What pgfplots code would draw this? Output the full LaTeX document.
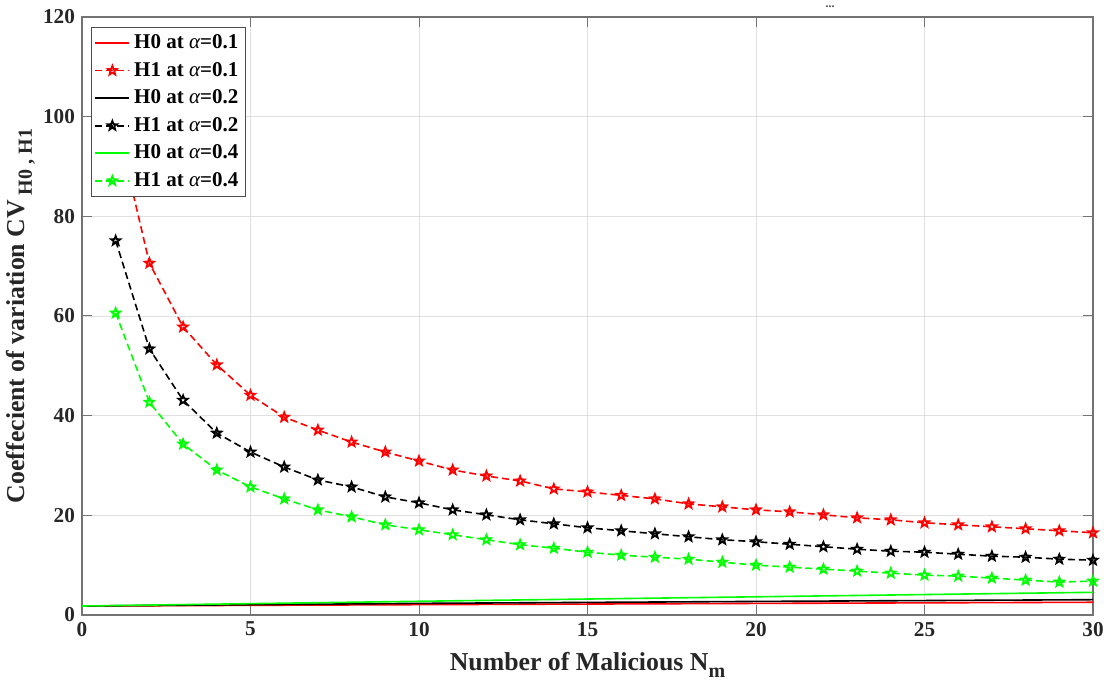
\documentclass[border=0pt]{standalone}
\usepackage{fontspec}
\setmainfont{Liberation Serif}
\usepackage{pgfplots}
\pgfplotsset{compat=1.18}
\pgfdeclareplotmark{pentagram}{%
  \pgfpathmoveto{\pgfpointpolar{90}{\pgfplotmarksize}}%
  \pgfpathlineto{\pgfpointpolar{126}{0.42\pgfplotmarksize}}%
  \pgfpathlineto{\pgfpointpolar{162}{\pgfplotmarksize}}%
  \pgfpathlineto{\pgfpointpolar{198}{0.42\pgfplotmarksize}}%
  \pgfpathlineto{\pgfpointpolar{234}{\pgfplotmarksize}}%
  \pgfpathlineto{\pgfpointpolar{270}{0.42\pgfplotmarksize}}%
  \pgfpathlineto{\pgfpointpolar{306}{\pgfplotmarksize}}%
  \pgfpathlineto{\pgfpointpolar{342}{0.42\pgfplotmarksize}}%
  \pgfpathlineto{\pgfpointpolar{18}{\pgfplotmarksize}}%
  \pgfpathlineto{\pgfpointpolar{54}{0.42\pgfplotmarksize}}%
  \pgfpathclose
  \pgfusepathqstroke
}
\newcommand{\al}{{\mdseries\itshape α}}
\begin{document}
\begin{tikzpicture}
\begin{axis}[
  scale only axis,
  width=505.5pt, height=299pt,
  xmin=0, xmax=30, ymin=0, ymax=120,
  xtick={0,5,...,30}, ytick={0,20,...,120},
  tick align=inside, tickpos=both,
  major tick length=5pt,
  axis line style={black!55, line width=0.6pt},
  tick style={black!55, line width=0.5pt},
  grid=major,
  major grid style={black!12, line width=0.4pt},
  /pgf/number format/assume math mode=true,
  tick label style={font=\fontsize{10.6}{12}\selectfont\bfseries, text=black!85},
  xlabel={Number of Malicious N\raisebox{-0.6ex}{\fontsize{10}{10}\selectfont m}},
  ylabel={Coeffecient of variation CV\raisebox{-0.6ex}{\fontsize{10}{10}\selectfont ~H0 , H1}},
  label style={font=\fontsize{12.9}{14}\selectfont\bfseries, text=black!85},
  xlabel style={at={(axis description cs:0.5,0)}, anchor=north, yshift=-15pt},
  ylabel style={at={(axis description cs:0,0.5)}, anchor=south, yshift=20pt},
  clip=false,
  legend style={at={(0.009,0.983)}, anchor=north west, draw=black!70, fill=white,
    font=\fontsize{10.5}{13.5}\selectfont\bfseries, inner sep=1.5pt, row sep=1.3pt},
  legend cell align=left,
  every axis plot/.append style={line width=0.8pt},
  mark size=2.4pt,
]
\addplot[red, no marks] coordinates {(0,1.8) (10,2.07) (20,2.32) (30,2.55)};
\addlegendentry{H0 at \al=0.1}
\addplot[red, dash pattern=on 3.5pt off 2pt, mark=pentagram, mark options={solid, line width=0.9pt}] coordinates {
(1,99.5) (2,70.6) (3,57.8) (4,50.2) (5,44.1) (6,39.7) (7,37.1) (8,34.7) (9,32.7) (10,30.9)
(11,29.1) (12,27.9) (13,26.9) (14,25.3) (15,24.7) (16,24.0) (17,23.3) (18,22.3) (19,21.7) (20,21.1)
(21,20.7) (22,20.1) (23,19.5) (24,19.1) (25,18.5) (26,18.1) (27,17.7) (28,17.3) (29,16.9) (30,16.5)};
\addlegendentry{H1 at \al=0.1}
\addplot[black, no marks] coordinates {(0,1.8) (10,2.33) (20,2.72) (30,3.07)};
\addlegendentry{H0 at \al=0.2}
\addplot[black, dash pattern=on 3.5pt off 2pt, mark=pentagram, mark options={solid, line width=0.9pt}] coordinates {
(1,75.1) (2,53.4) (3,43.1) (4,36.5) (5,32.7) (6,29.7) (7,27.1) (8,25.7) (9,23.7) (10,22.5)
(11,21.1) (12,20.1) (13,19.1) (14,18.3) (15,17.5) (16,16.9) (17,16.3) (18,15.7) (19,15.1) (20,14.7)
(21,14.2) (22,13.7) (23,13.2) (24,12.8) (25,12.6) (26,12.2) (27,11.8) (28,11.6) (29,11.2) (30,11.0)};
\addlegendentry{H1 at \al=0.2}
\addplot[green, no marks] coordinates {(0,1.8) (10,2.75) (20,3.65) (30,4.55)};
\addlegendentry{H0 at \al=0.4}
\addplot[green, dash pattern=on 3.5pt off 2pt, mark=pentagram, mark options={solid, line width=0.9pt}] coordinates {
(1,60.6) (2,42.7) (3,34.3) (4,29.1) (5,25.7) (6,23.3) (7,21.1) (8,19.7) (9,18.1) (10,17.1)
(11,16.1) (12,15.1) (13,14.1) (14,13.4) (15,12.6) (16,12.0) (17,11.6) (18,11.2) (19,10.6) (20,10.0)
(21,9.6) (22,9.2) (23,8.8) (24,8.4) (25,8.0) (26,7.8) (27,7.4) (28,7.0) (29,6.6) (30,6.8)};
\addlegendentry{H1 at \al=0.4}
\node[font=\fontsize{6}{6}\selectfont\bfseries, text=black!70] at (axis cs:22.2,120) [yshift=5pt] {...};
\end{axis}
\pgfresetboundingbox
\path ([xshift=-41pt,yshift=-39pt]current axis.south west) rectangle ([xshift=8.5pt,yshift=8.5pt]current axis.north east);
\end{tikzpicture}
\end{document}
